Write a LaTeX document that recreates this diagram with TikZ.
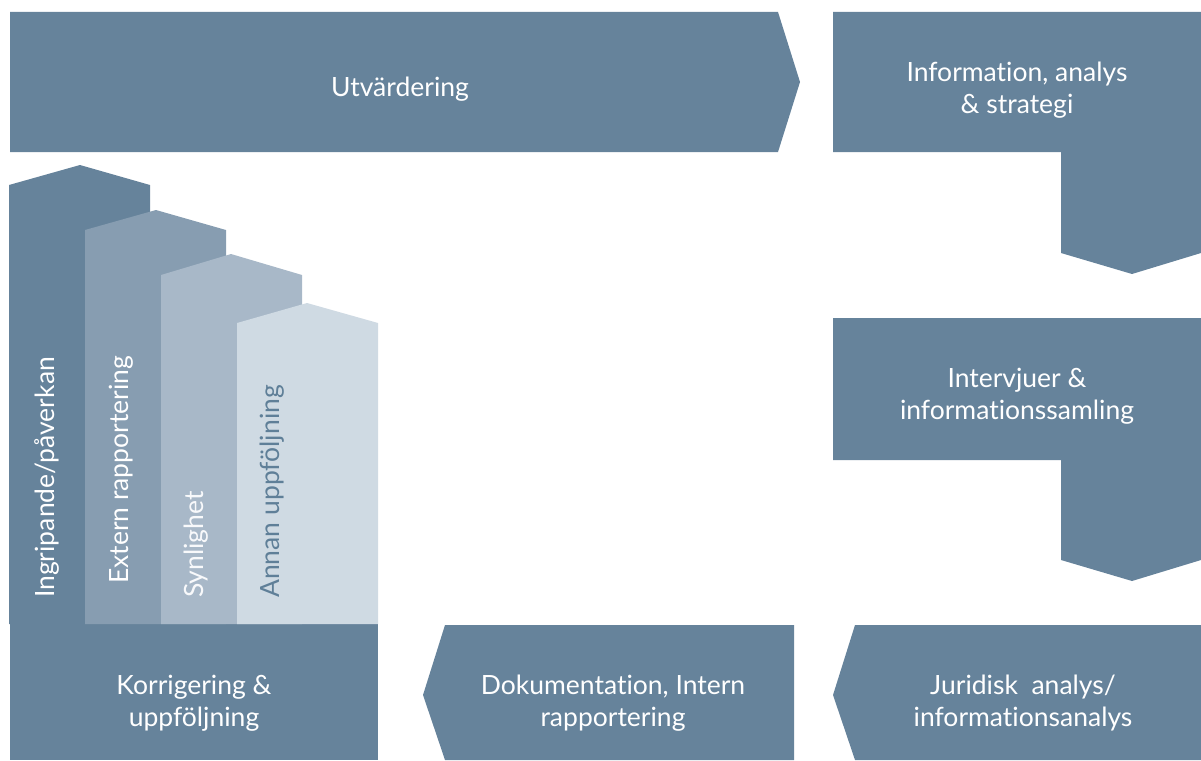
\documentclass[tikz,border=0pt]{standalone}
\usepackage{fontspec}
\setmainfont{Lato}[Ligatures=NoCommon]
\definecolor{mainblue}{HTML}{66839B}
\definecolor{bartwo}{HTML}{879DB1}
\definecolor{barthree}{HTML}{A8B8C8}
\definecolor{barfour}{HTML}{CFDAE3}
\definecolor{txtdark}{HTML}{5F7F98}
\tikzset{
  shp/.style={fill=mainblue},
  lbl/.style={text=white, align=center, font=\fontsize{26.5}{32}\selectfont, inner sep=0pt},
  vlbl/.style={font=\fontsize{26.5}{32}\selectfont, inner sep=0pt, rotate=90, anchor=west}
}
\begin{document}
\begin{tikzpicture}[x=1pt,y=-1pt]
\useasboundingbox (0,0) rectangle (1201,760);
% top arrow
\fill[shp] (10,12) -- (778,12) -- (800,82) -- (778,152) -- (10,152) -- cycle;
\node[lbl] (utv) at (400,89) {Utvärdering};
% info box
\fill[shp] (833,12) -- (1201,12) -- (1201,253) -- (1132,274) -- (1061,253) -- (1061,152) -- (833,152) -- cycle;
\node[lbl] (info) at (1017,90) {Information, analys\\\& strategi};
% interview box
\fill[shp] (833,318) -- (1201,318) -- (1201,560) -- (1132,581) -- (1061,560) -- (1061,460) -- (833,460) -- cycle;
\node[lbl] (intv) at (1017,396) {Intervjuer \&\\informationssamling};
% juridisk
\fill[shp] (855,625) -- (1201,625) -- (1201,760) -- (855,760) -- (833,695) -- cycle;
\node[lbl] (jur) at (1023,703) {Juridisk\ \ analys/\\informationsanalys};
% dokumentation
\fill[shp] (445,625) -- (794,625) -- (794,760) -- (445,760) -- (423,695) -- cycle;
\node[lbl] (dok) at (613,703) {Dokumentation, Intern\\rapportering};
% korrigering
\fill[shp] (10,624) rectangle (378,760);
\node[lbl] (kor) at (194,703) {Korrigering \&\\uppföljning};
% bars
\fill[mainblue] (9,624) -- (9,185) -- (80,165) -- (150,185) -- (150,624) -- cycle;
\fill[bartwo] (85,624) -- (85,230) -- (156,210) -- (226,230) -- (226,624) -- cycle;
\fill[barthree] (161,624) -- (161,275) -- (231,254) -- (302,275) -- (302,624) -- cycle;
\fill[barfour] (237,624) -- (237,323) -- (307,303) -- (378,323) -- (378,624) -- cycle;
\node[vlbl, text=white] (ing) at (47,598) {Ingripande/påverkan};
\node[vlbl, text=white] (ext) at (121,584) {Extern rapportering};
\node[vlbl, text=white!92!barthree] (syn) at (196,598) {Synlighet};
\node[vlbl, text=txtdark] (ann) at (272,598) {Annan uppföljning};
\end{tikzpicture}
\end{document}
